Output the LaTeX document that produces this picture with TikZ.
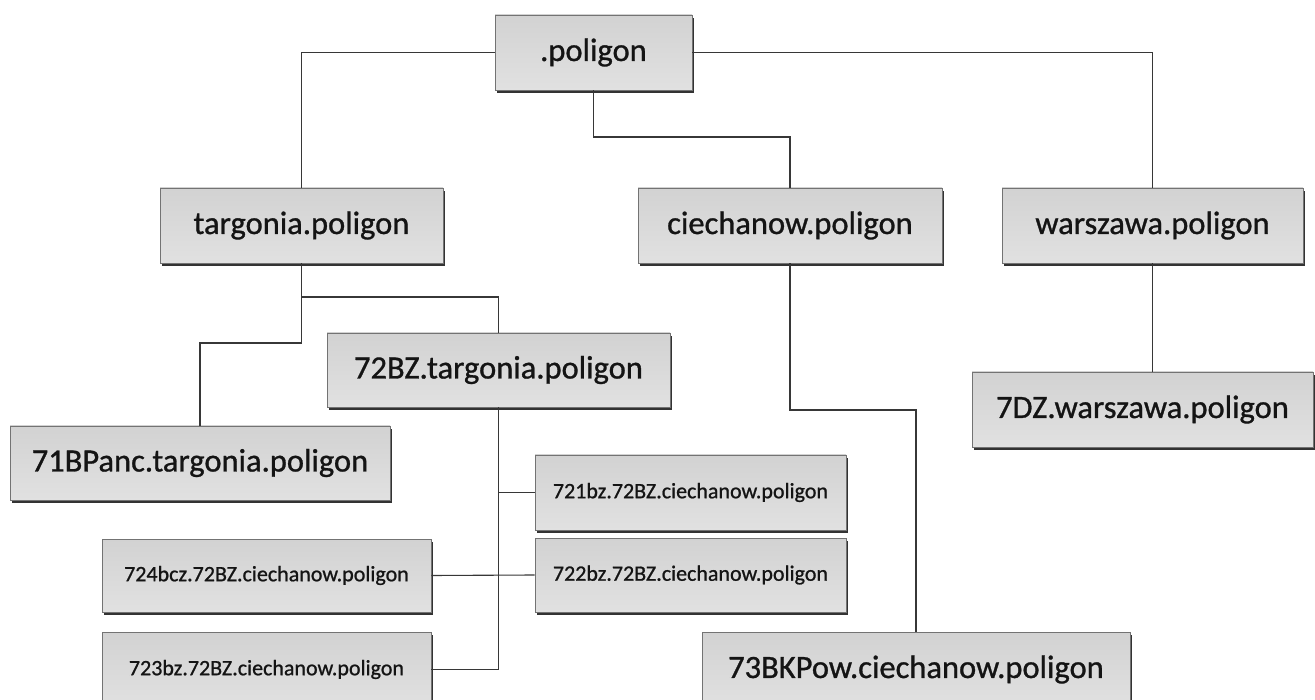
\documentclass[tikz,border=0pt]{standalone}
\usepackage{fontspec}
\setmainfont{Carlito}
\newfontfamily\boxfont{Carlito}[FakeBold=0.9]
\usetikzlibrary{shadows}
\definecolor{boxtop}{RGB}{210,210,210}
\definecolor{boxbot}{RGB}{225,225,225}
\definecolor{boxedge}{RGB}{115,115,115}
\definecolor{wire}{RGB}{55,55,55}
\tikzset{
  box/.style={draw=boxedge, line width=0.8pt, top color=boxtop, bottom color=boxbot,
    inner sep=0pt, text=black!92,
    drop shadow={shadow xshift=1.5pt, shadow yshift=-3pt, fill=black!80, opacity=1}},
  bigbox/.style={box, font=\boxfont\fontsize{32.5}{38}\selectfont},
  smallbox/.style={box, font=\boxfont\fontsize{22}{26}\selectfont},
  wire/.style={draw=wire, line width=1.1pt}
}
\begin{document}
\begin{tikzpicture}[x=1pt, y=-1pt]
\useasboundingbox[fill=white] (0,0) rectangle (1315,700);

% upper levels
\node[bigbox, minimum width=197, minimum height=75] (top)   at (593.5,52.5) {.poligon};
\node[bigbox, minimum width=283, minimum height=75] (targ)  at (301.5,225.5) {targonia.poligon};
\node[bigbox, minimum width=304, minimum height=75] (ciech) at (790,225.5) {ciechanow.poligon};
\node[bigbox, minimum width=301, minimum height=75] (warsz) at (1152.5,225.5) {warszawa.poligon};

% second levels
\node[bigbox, minimum width=343, minimum height=74] (b72)  at (498.5,370) {72BZ.targonia.poligon};
\node[bigbox, minimum width=380, minimum height=74] (b71)  at (200,463) {71BPanc.targonia.poligon};
\node[bigbox, minimum width=341, minimum height=75] (b7dz) at (1142.5,409.5) {7DZ.warszawa.poligon};
\node[bigbox, minimum width=428, minimum height=75] (b73)  at (916,669.5) {73BKPow.ciechanow.poligon};

% leaves under 72BZ
\node[smallbox, minimum width=311, minimum height=75] (b721) at (690.5,492.5) {721bz.72BZ.ciechanow.poligon};
\node[smallbox, minimum width=311, minimum height=74] (b722) at (690.5,575) {722bz.72BZ.ciechanow.poligon};
\node[smallbox, minimum width=329, minimum height=73] (b724) at (266.5,575.5) {724bcz.72BZ.ciechanow.poligon};
\node[smallbox, minimum width=329, minimum height=75] (b723) at (266.5,669.5) {723bz.72BZ.ciechanow.poligon};

% connectors
\draw[wire] (top.west) -| (targ.north);
\draw[wire] (top.east) -| (warsz.north);
\draw[wire] (top.south) -- (top.south |- 0,137) -| (ciech.north);

\draw[wire] (targ.south) -- (targ.south |- 0,297) -| (b72.north);
\draw[wire] (targ.south) -- (targ.south |- 0,343) -| (b71.north);

\draw[wire] (b72.south) |- (b723.east);
\draw[wire] (b72.south |- b721.west) -- (b721.west);
\draw[wire] (b724.east) -- (b722.west);

\draw[wire] (ciech.south) -- (ciech.south |- 0,410) -| (b73.north);
\draw[wire] (warsz.south) -- (warsz.south |- b7dz.north);
\end{tikzpicture}
\end{document}
